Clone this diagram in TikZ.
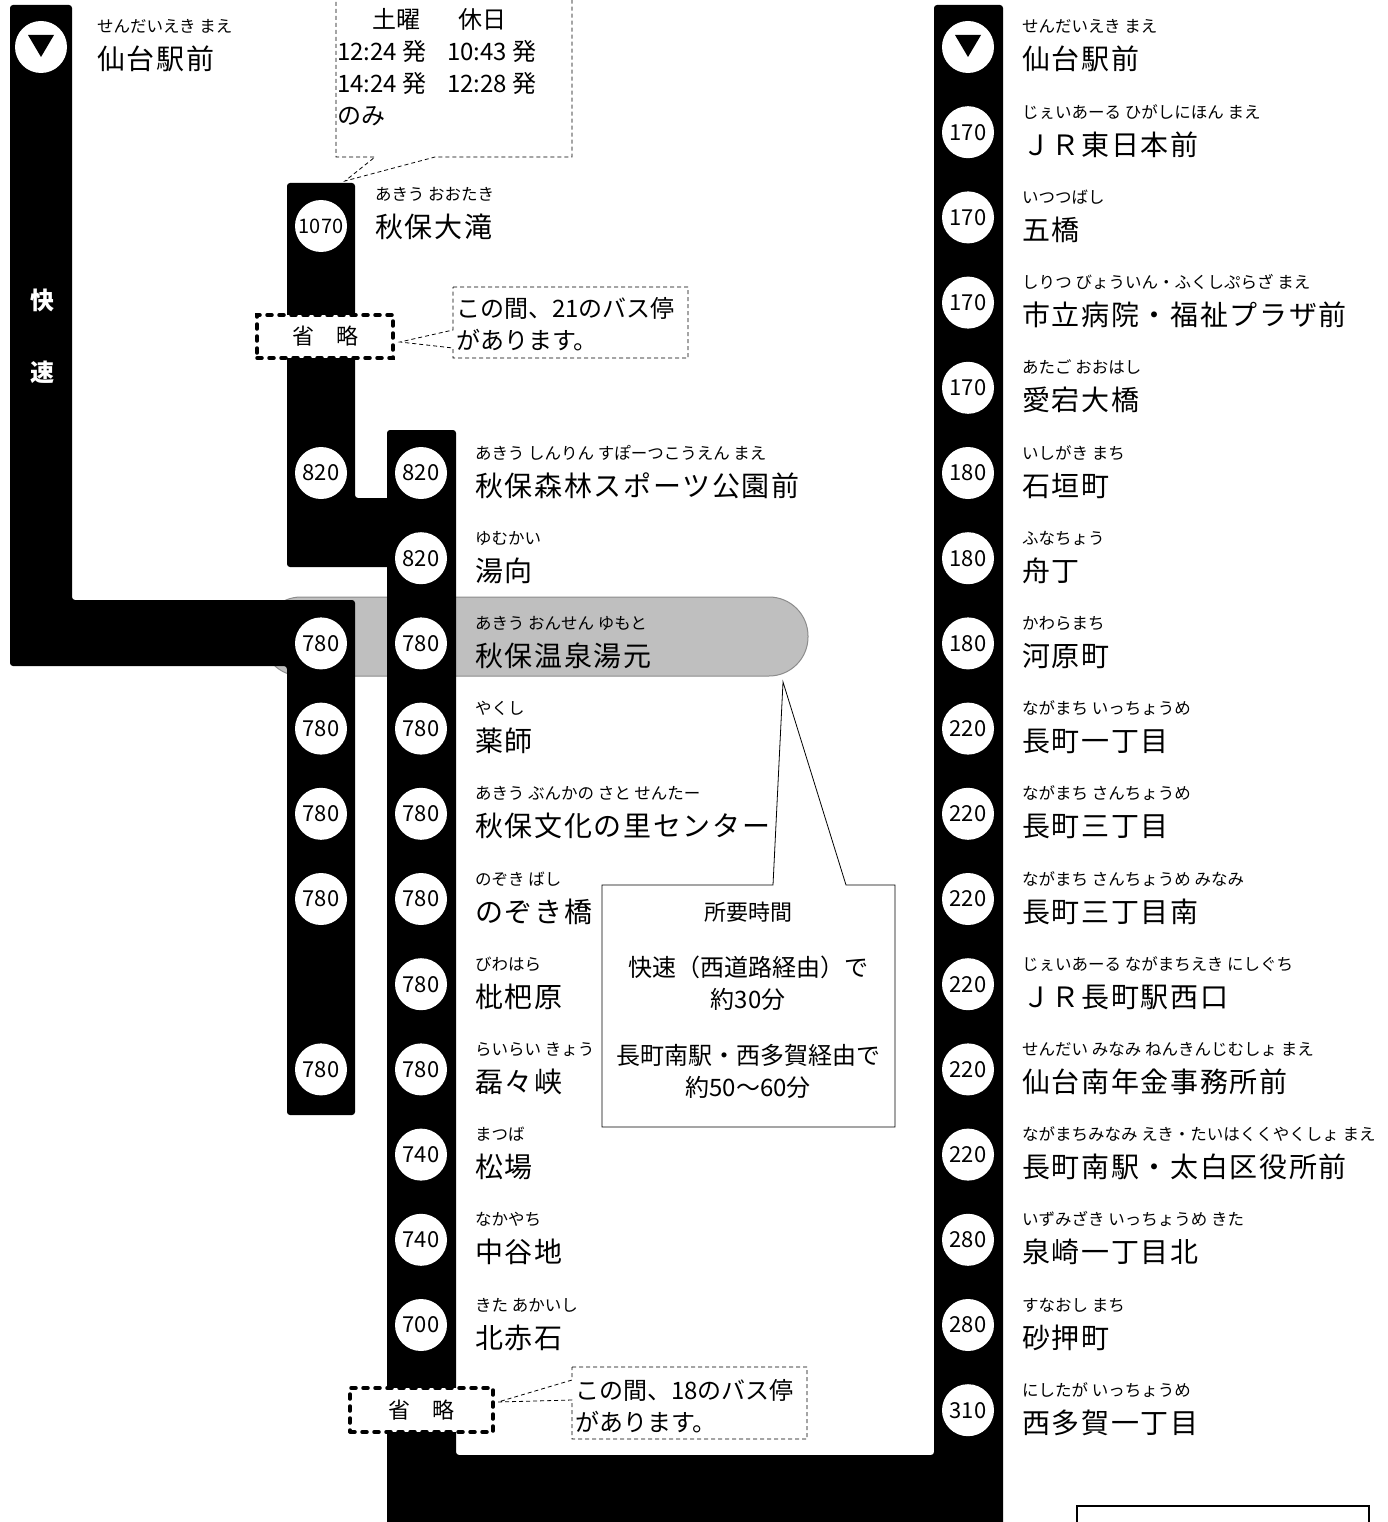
\documentclass[tikz,border=0pt]{standalone}
\usepackage{fontspec}
\setmainfont{Noto Sans CJK JP}
\newfontfamily\stfamily[LetterSpace=6]{Noto Sans CJK JP}
\newcommand{\rbfont}{\fontsize{16.5}{18}\selectfont}
\newcommand{\stfont}{\stfamily\fontsize{28}{30}\selectfont}
\newcommand{\farefont}{\fontsize{22}{24}\selectfont}
\newcommand{\notefont}{\fontsize{24}{26}\selectfont}

\tikzset{
  routebar/.style={fill=black, rounded corners=3pt},
  stopmark/.style={circle, fill=white, minimum size=52pt, inner sep=0pt, font=\farefont},
  rubytext/.style={anchor=base west, inner sep=0pt, font=\rbfont},
  nametext/.style={anchor=base west, inner sep=0pt, font=\stfont},
  notetext/.style={anchor=base west, inner sep=0pt, font=\notefont},
  sumtext/.style={anchor=base, inner sep=0pt, font=\fontsize{24}{26}\selectfont},
  skipbox/.style={draw, fill=white, line width=3.5pt, dash pattern=on 5pt off 7pt,
    line cap=round, inner sep=0pt, font=\fontsize{22}{24}\selectfont},
  notebox/.style={draw, line width=0.8pt, dash pattern=on 4pt off 3pt},
}

\begin{document}
\begin{tikzpicture}[x=1pt, y=-1pt]
\useasboundingbox (0,0) rectangle (1388,1522);
\fill[white] (0,0) rectangle (1388,1522);

% onsen band
\draw[fill=black!25, draw=black!45, line width=1pt, rounded corners=39pt] (262,597) rectangle (808,676);

% route bars
\fill[routebar] (10,5) -- (72,5) -- (72,600) -- (355,600) -- (355,1115) -- (287,1115) -- (287,666) -- (10,666) -- cycle;
\fill[routebar] (287,183) -- (355,183) -- (355,498) -- (400,498) -- (400,567) -- (287,567) -- cycle;
\fill[routebar] (387,430) -- (456,430) -- (456,1455) -- (934,1455) -- (934,5) -- (1003,5) -- (1003,1540) -- (387,1540) -- cycle;

% express line
\node[stopmark] (ex0) at (41,47) {};
\fill[shift={(ex0)}] (-13,-12) -- (13,-12) -- (0,10) -- cycle;
\node[rubytext] (exr0) at (97,33) {せんだいえき まえ};
\node[nametext] (exn0) at (97,70) {仙台駅前};
\node[text=white, font=\bfseries\fontsize{24}{26}\selectfont] (kai) at (42,300) {快};
\node[text=white, font=\bfseries\fontsize{24}{26}\selectfont] (soku) at (42,372) {速};

% akiu otaki branch
\node[stopmark, font=\fontsize{20}{22}\selectfont] (b0) at (321,226) {1070};
\node[rubytext] (br0) at (375,201) {あきう おおたき};
\node[nametext] (bn0) at (375,238) {秋保大滝};
\foreach \k/\fare in {5/820, 7/780, 8/780, 9/780, 10/780, 12/780}
  \node[stopmark] (b\k) at (321,{47+85.2*\k}) {\fare};

% main line
\foreach \k/\fare/\rb/\nm in {
  5/820/あきう しんりん すぽーつこうえん まえ/秋保森林スポーツ公園前,
  6/820/ゆむかい/湯向,
  7/780/あきう おんせん ゆもと/秋保温泉湯元,
  8/780/やくし/薬師,
  9/780/あきう ぶんかの さと せんたー/秋保文化の里センター,
  10/780/のぞき ばし/のぞき橋,
  11/780/びわはら/枇杷原,
  12/780/らいらい きょう/磊々峡,
  13/740/まつば/松場,
  14/740/なかやち/中谷地,
  15/700/きた あかいし/北赤石}
{
  \node[stopmark] (m\k) at (421,{47+85.2*\k}) {\fare};
  \node[rubytext] (mr\k) at (475,{33+85.2*\k}) {\rb};
  \node[nametext] (mn\k) at (475,{70+85.2*\k}) {\nm};
}

% right line
\node[stopmark] (r0) at (968,47) {};
\fill[shift={(r0)}] (-13,-12) -- (13,-12) -- (0,10) -- cycle;
\node[rubytext] (rr0) at (1022,33) {せんだいえき まえ};
\node[nametext] (rn0) at (1022,70) {仙台駅前};
\foreach \k/\fare/\rb/\nm in {
  1/170/じぇいあーる ひがしにほん まえ/ＪＲ東日本前,
  2/170/いつつばし/五橋,
  3/170/しりつ びょういん・ふくしぷらざ まえ/市立病院・福祉プラザ前,
  4/170/あたご おおはし/愛宕大橋,
  5/180/いしがき まち/石垣町,
  6/180/ふなちょう/舟丁,
  7/180/かわらまち/河原町,
  8/220/ながまち いっちょうめ/長町一丁目,
  9/220/ながまち さんちょうめ/長町三丁目,
  10/220/ながまち さんちょうめ みなみ/長町三丁目南,
  11/220/じぇいあーる ながまちえき にしぐち/ＪＲ長町駅西口,
  12/220/せんだい みなみ ねんきんじむしょ まえ/仙台南年金事務所前,
  13/220/ながまちみなみ えき・たいはくくやくしょ まえ/長町南駅・太白区役所前,
  14/280/いずみざき いっちょうめ きた/泉崎一丁目北,
  15/280/すなおし まち/砂押町,
  16/310/にしたが いっちょうめ/西多賀一丁目}
{
  \node[stopmark] (r\k) at (968,{47+85.2*\k}) {\fare};
  \node[rubytext] (rr\k) at (1022,{33+85.2*\k}) {\rb};
  \node[nametext] (rn\k) at (1022,{70+85.2*\k}) {\nm};
}

% skipped stops
\node[skipbox, minimum width=136pt, minimum height=43pt] (skipA) at (325,336.5) {省　略};
\node[skipbox, minimum width=143pt, minimum height=44pt] (skipB) at (421.5,1410) {省　略};

% timetable note
\coordinate (tipT) at (345,181);
\draw[notebox] (336,-5) -- (336,157) -- (375,157) -- (tipT) -- (435,157) -- (572,157) -- (572,-5);
\node[notetext] (tt1) at (372,29) {土曜};
\node[notetext] (tt2) at (458,29) {休日};
\node[notetext] (tt3) at (337,61) {12:24 発};
\node[notetext] (tt4) at (447,61) {10:43 発};
\node[notetext] (tt5) at (337,93) {14:24 発};
\node[notetext] (tt6) at (447,93) {12:28 発};
\node[notetext] (tt7) at (337,125) {のみ};

% skip notes
\coordinate (tipA) at (400,342);
\draw[notebox] (453,287) -- (688,287) -- (688,358) -- (453,358) -- (453,348) -- (tipA) -- (453,330) -- cycle;
\node[notetext] (na1) at (456,317) {この間、21のバス停};
\node[notetext] (na2) at (456,349) {があります。};
\coordinate (tipB) at (498,1402);
\draw[notebox] (572,1367) -- (807,1367) -- (807,1439) -- (572,1439) -- (572,1400) -- (tipB) -- (572,1380) -- cycle;
\node[notetext] (nb1) at (575,1399) {この間、18のバス停};
\node[notetext] (nb2) at (575,1431) {があります。};

% travel time note
\coordinate (tipC) at (783,682);
\draw[line width=0.8pt] (602,885) -- (773,885) -- (tipC) -- (846,885) -- (895,885) -- (895,1127) -- (602,1127) -- cycle;
\node[sumtext, font=\fontsize{22}{24}\selectfont] (s0) at (748,920) {所要時間};
\node[sumtext] (s1) at (748,976) {快速（西道路経由）で};
\node[sumtext] (s2) at (748,1008) {約30分};
\node[sumtext] (s3) at (748,1064) {長町南駅・西多賀経由で};
\node[sumtext] (s4) at (748,1096) {約50～60分};

% corner frame
\draw[line width=2.5pt] (1077,1540) -- (1077,1506) -- (1369,1506) -- (1369,1540);
\end{tikzpicture}
\end{document}
